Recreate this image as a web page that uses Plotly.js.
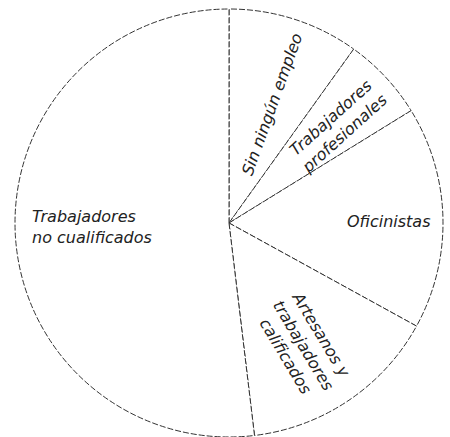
<!DOCTYPE html>
<html>
<head>
<meta charset="utf-8">
<script src="https://cdn.plot.ly/plotly-3.0.1.min.js"></script>
<style>
  body { margin: 0; background: #fff; }
  #chart { width: 450px; height: 437px; }
</style>
</head>
<body>
<div id="chart"></div>
<script>
// Categories and shares (%), read clockwise from 12 o'clock
const labels = [
    'Sin ningún empleo',
    'Trabajadores profesionales',
    'Oficinistas',
    'Artesanos y trabajadores calificados',
    'Trabajadores no cualificados'
];
const values = [9.9, 6.3, 16.8, 15.1, 51.9];

// How each label is written on the chart
const labelText = [
    'Sin ningún empleo',
    'Trabajadores<br>profesionales',
    'Oficinistas',
    'Artesanos y<br>trabajadores<br>calificados',
    'Trabajadores<br>no cualificados'
];
const labelOrient = ['radial', 'radial', 'horizontal', 'radial', 'horizontal'];
const labelRadius = [0.59, 0.68, 0.75, 0.67, 0.93];   // fraction of pie radius
const labelShiftDeg = [2, 1, 1, 3, 2.3];               // small nudge from slice middle
const labelAnchor = ['center', 'center', 'center', 'center', 'left'];

const W = 450, H = 437;
const margin = { l: 15, r: 7, t: 9, b: 0, pad: 0 };
const R = Math.min(W - margin.l - margin.r, H - margin.t - margin.b) / 2;

// Place the labels from the slice angles
const total = values.reduce((a, b) => a + b, 0);
let cum = 0;
const annotations = values.map((v, i) => {
    const mid = 360 * (cum + v / 2) / total + labelShiftDeg[i];
    cum += v;
    const rad = mid * Math.PI / 180;
    const r = R * labelRadius[i];
    let angle = 0;
    if (labelOrient[i] === 'radial') {
        angle = mid - 90;
        if (angle < -90) angle += 180;
        if (angle > 90) angle -= 180;
    }
    return {
        x: 0.5, y: 0.5, xref: 'paper', yref: 'paper',
        xshift: r * Math.sin(rad),
        yshift: r * Math.cos(rad),
        xanchor: labelAnchor[i], yanchor: 'middle',
        text: labelText[i],
        textangle: angle,
        align: labelAnchor[i] === 'left' ? 'left' : 'center',
        showarrow: false,
        font: { family: 'DejaVu Sans, sans-serif', size: 16, color: '#222', style: 'italic' }
    };
});

const data = [{
    type: 'pie',
    labels: labels,
    values: values,
    sort: false,
    direction: 'clockwise',
    rotation: 0,
    textinfo: 'none',
    hoverinfo: 'label+percent',
    marker: {
        colors: labels.map(() => '#ffffff'),
        line: { color: '#333', width: 1 }
    },
    showlegend: false
}];

const layout = {
    width: W,
    height: H,
    margin: margin,
    paper_bgcolor: '#fff',
    plot_bgcolor: '#fff',
    annotations: annotations
};

Plotly.newPlot('chart', data, layout, { displayModeBar: false, staticPlot: true }).then(() => {
    // dashed outlines like the printed figure
    document.querySelectorAll('#chart .slice path.surface').forEach(p => {
        p.style.strokeDasharray = '6,2';
    });
});
</script>
</body>
</html>
